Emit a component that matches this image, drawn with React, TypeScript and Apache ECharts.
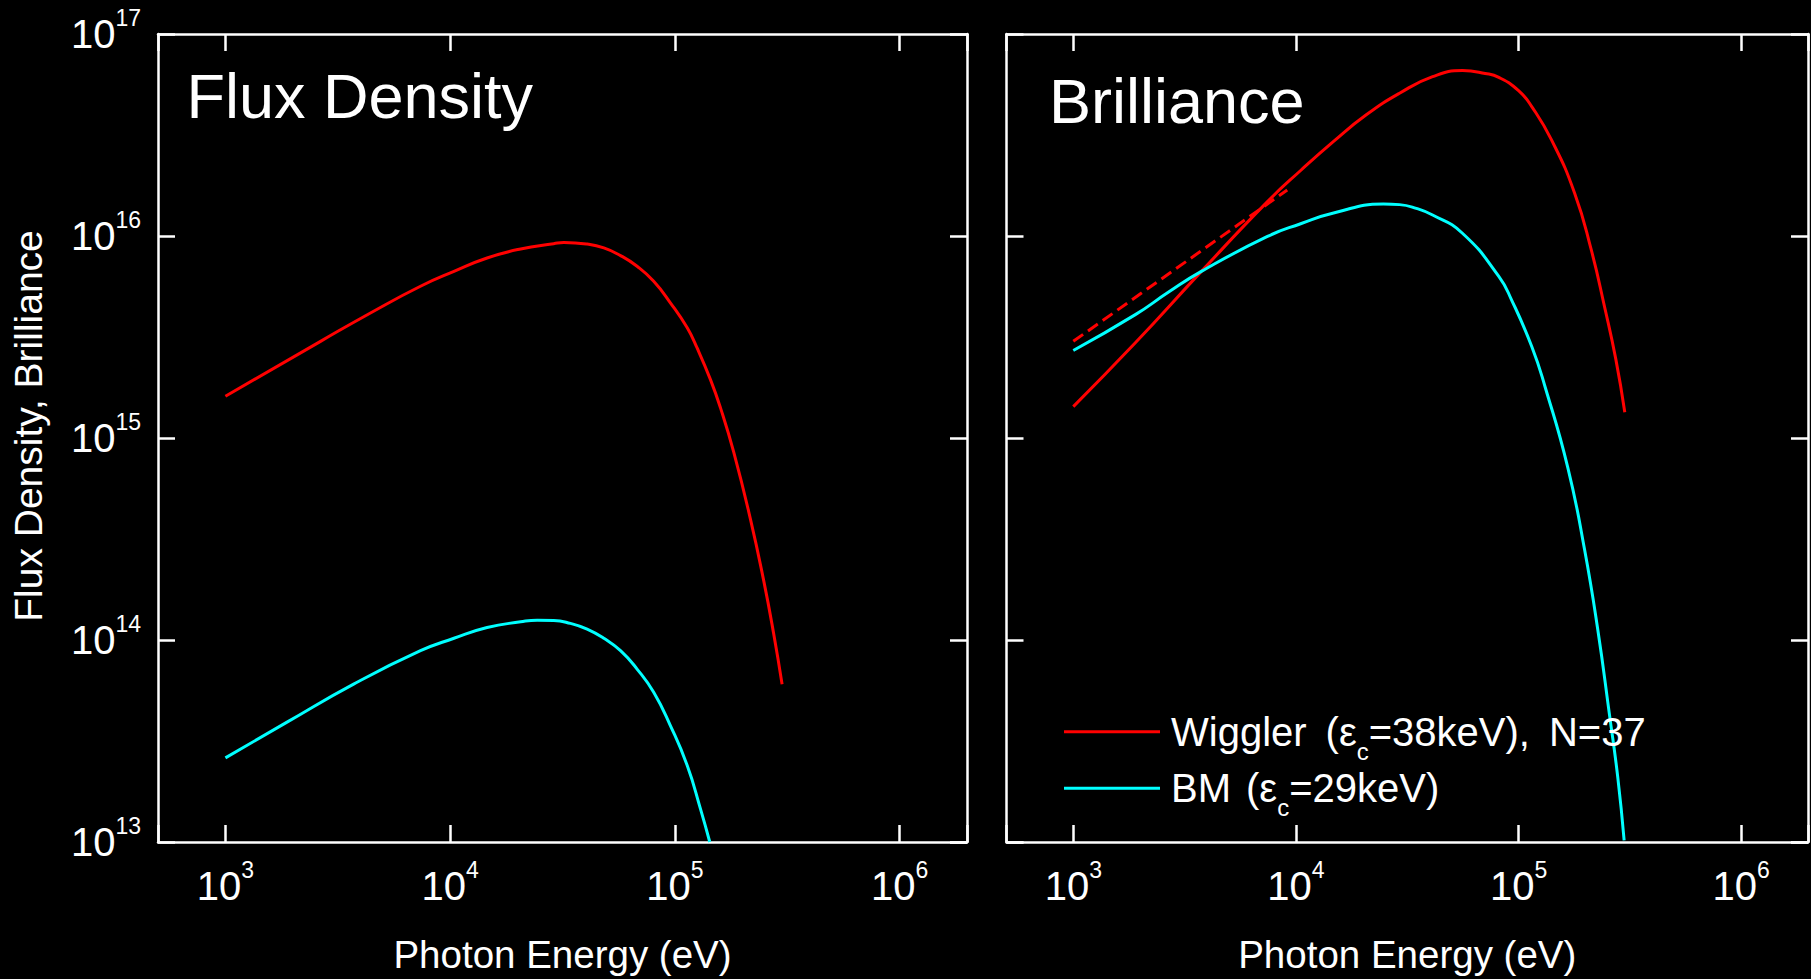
import React, { useEffect, useRef } from 'react';
import * as echarts from 'echarts';

const FONT = '"Liberation Sans", Arial, Helvetica, sans-serif';

// ---------- data (photon energy in eV) ----------
// Flux Density panel
const fluxWigglerE = [1000, 2650, 4420, 7380, 10400, 14600, 20600, 28900, 32100, 40700, 48300, 57300, 67900, 80500, 95500, 113500, 125600, 143900, 159600, 182800, 216800, 248900, 275400, 300000];
const fluxWigglerV = [1.61e15, 3.01e15, 4.16e15, 5.64e15, 6.68e15, 7.78e15, 8.63e15, 9.16e15, 9.29e15, 9.12e15, 8.73e15, 8.0e15, 7.08e15, 5.97e15, 4.67e15, 3.51e15, 2.79e15, 1.95e15, 1.41e15, 8.51e14, 3.98e14, 1.95e14, 1.07e14, 6.04e13];

const fluxBmE = [1000, 1880, 3720, 7380, 10400, 14600, 20600, 24400, 28900, 34300, 40700, 48300, 57300, 67900, 80500, 95500, 113500, 130000, 143000];
const fluxBmV = [2.61e13, 3.92e13, 6.05e13, 8.85e13, 1.02e14, 1.153e14, 1.23e14, 1.253e14, 1.25e14, 1.208e14, 1.132e14, 1.02e14, 8.85e13, 7.18e13, 5.51e13, 3.77e13, 2.39e13, 1.46e13, 1.0e13];

// Brilliance panel
const brilWigglerE = [1000, 1900, 3760, 7450, 10500, 14760, 20700, 29200, 41100, 56000, 70800, 81500, 100000, 114600, 140600, 178600, 212000, 243000, 273500, 300000];
const brilWigglerV = [1.43e15, 2.96e15, 6.68e15, 1.48e16, 2.11e16, 2.94e16, 3.98e16, 5.09e16, 6.15e16, 6.59e16, 6.38e16, 6.1e16, 5.25e16, 4.37e16, 2.99e16, 1.63e16, 8.55e15, 4.49e15, 2.45e15, 1.34e15];

const brilWigglerDashE = [1000, 9140];
const brilWigglerDashV = [3.01e15, 1.69e16];

const brilBmE = [1000, 1900, 2670, 3760, 7450, 10500, 14760, 24700, 29200, 34700, 41100, 55800, 81500, 93300, 114600, 131200, 166700, 197700, 227000, 256000, 279000, 298000];
const brilBmV = [2.71e15, 4.08e15, 5.26e15, 6.68e15, 9.95e15, 1.15e16, 1.3e16, 1.44e16, 1.43e16, 1.37e16, 1.27e16, 1.035e16, 6.31e15, 4.79e15, 2.84e15, 1.81e15, 7.08e14, 2.82e14, 1.12e14, 4.27e13, 2.09e13, 1.02e13];

// ---------- axes / labels ----------
const xTickPowers = [3, 4, 5, 6];
const yTickPowers = [13, 14, 15, 16, 17];
const X_MIN = Math.pow(10, 2.7);
const X_MAX = Math.pow(10, 6.3);
const Y_MIN = 1e13;
const Y_MAX = 1e17;

const panelTitles = ['Flux Density', 'Brilliance'];
const xAxisTitle = 'Photon Energy (eV)';
const yAxisTitle = 'Flux Density, Brilliance';
const legendNames = ['Wiggler', 'BM'];
const legendLabels: Record<string, string> = {
  Wiggler: '{t|Wiggler}{sp| }{t|(ε}{s|c}{t|=38keV),}{sp| }{t|N=37}',
  BM: '{t|BM}{sq| }{t|(ε}{s|c}{t|=29keV)}',
};

const RED = '#ff0000';
const CYAN = '#00ffff';
const WHITE = '#ffffff';

const pairs = (xs: number[], ys: number[]) => xs.map((x, i) => [x, ys[i]]);

const powLabel = (powers: number[]) => (value: number) => {
  const p = Math.log10(value);
  const r = Math.round(p);
  if (Math.abs(p - r) > 1e-3 || powers.indexOf(r) < 0) return '';
  return `{b|10}{s|${r}}`;
};

const tickRich = {
  b: { fontSize: 40, lineHeight: 56, color: WHITE, fontFamily: FONT },
  s: { fontSize: 23, lineHeight: 23, verticalAlign: 'top', color: WHITE, fontFamily: FONT },
};

const lineW = 2.5;
const axisLine = { show: true, onZero: false, lineStyle: { color: WHITE, width: lineW } };
const axisTick = { show: true, inside: true, length: 17, lineStyle: { color: WHITE, width: lineW } };

function xAxesFor(gridIndex: number) {
  return [
    {
      type: 'log', logBase: 10, gridIndex, position: 'bottom', min: X_MIN, max: X_MAX,
      axisLine, axisTick,
      axisLabel: { show: true, interval: 0, margin: 16, formatter: powLabel(xTickPowers), rich: tickRich, color: WHITE },
      splitLine: { show: false }, minorTick: { show: false }, minorSplitLine: { show: false },
      name: xAxisTitle, nameLocation: 'middle', nameGap: 93,
      nameTextStyle: { color: WHITE, fontSize: 38.5, fontFamily: FONT },
    },
    {
      type: 'log', logBase: 10, gridIndex, position: 'top', min: X_MIN, max: X_MAX,
      axisLine, axisTick, axisLabel: { show: false },
      splitLine: { show: false }, minorTick: { show: false },
    },
  ];
}

function yAxesFor(gridIndex: number, labels: boolean) {
  return [
    {
      type: 'log', logBase: 10, gridIndex, position: 'left', min: Y_MIN, max: Y_MAX,
      axisLine, axisTick,
      axisLabel: {
        show: labels, interval: 0, margin: 17, formatter: powLabel(yTickPowers), rich: tickRich, color: WHITE,
        showMinLabel: true, showMaxLabel: true,
      },
      splitLine: { show: false }, minorTick: { show: false },
    },
    {
      type: 'log', logBase: 10, gridIndex, position: 'right', min: Y_MIN, max: Y_MAX,
      axisLine, axisTick, axisLabel: { show: false },
      splitLine: { show: false }, minorTick: { show: false },
    },
  ];
}

function lineSeries(name: string, xi: number, yi: number, data: number[][], color: string, dashed = false) {
  return {
    type: 'line', name, xAxisIndex: xi, yAxisIndex: yi, data,
    showSymbol: false, symbol: 'none', smooth: dashed ? false : 0.5,
    lineStyle: { color, width: 3, type: dashed ? [12, 6] : 'solid' },
    itemStyle: { color }, clip: true, silent: true,
  };
}

const option: any = {
  animation: false,
  backgroundColor: '#000',
  textStyle: { fontFamily: FONT, color: WHITE },
  grid: [
    { left: 158, top: 34, width: 809, height: 809, containLabel: false },
    { left: 1006.5, top: 34, width: 809, height: 809, containLabel: false },
  ],
  xAxis: [...xAxesFor(0), ...xAxesFor(1)],
  yAxis: [...yAxesFor(0, true), ...yAxesFor(1, false)],
  title: [
    { text: panelTitles[0], left: 186.5, top: 64.5, padding: 0, textStyle: { color: WHITE, fontSize: 63, fontWeight: 'normal', fontFamily: FONT } },
    { text: panelTitles[1], left: 1049, top: 69.5, padding: 0, textStyle: { color: WHITE, fontSize: 63, fontWeight: 'normal', fontFamily: FONT } },
  ],
  legend: {
    data: legendNames,
    orient: 'vertical', left: 1064, top: 711.8, padding: 0, itemGap: 5,
    itemWidth: 96, itemHeight: 3, icon: 'rect', selectedMode: false,
    formatter: (name: string) => legendLabels[name] || name,
    textStyle: {
      color: WHITE, fontSize: 40, fontFamily: FONT, padding: [0, 0, 0, 6],
      rich: {
        t: { fontSize: 40, lineHeight: 63, color: WHITE, fontFamily: FONT },
        sp: { fontSize: 40, width: 19, color: WHITE, fontFamily: FONT },
        sq: { fontSize: 40, width: 15, color: WHITE, fontFamily: FONT },
        s: { fontSize: 24, verticalAlign: 'bottom', color: WHITE, fontFamily: FONT },
      },
    },
  },
  graphic: [
    {
      type: 'text', x: 28.5, y: 426, rotation: Math.PI / 2, silent: true,
      style: { text: yAxisTitle, fill: WHITE, fontSize: 39, fontFamily: FONT, align: 'center', verticalAlign: 'middle' },
    },
  ],
  series: [
    lineSeries('Wiggler flux', 0, 0, pairs(fluxWigglerE, fluxWigglerV), RED),
    lineSeries('BM flux', 0, 0, pairs(fluxBmE, fluxBmV), CYAN),
    lineSeries('Wiggler dashed', 2, 2, pairs(brilWigglerDashE, brilWigglerDashV), RED, true),
    lineSeries('Wiggler', 2, 2, pairs(brilWigglerE, brilWigglerV), RED),
    lineSeries('BM', 2, 2, pairs(brilBmE, brilBmV), CYAN),
  ],
};

export default function App() {
  const ref = useRef<HTMLDivElement>(null);
  useEffect(() => {
    document.body.style.margin = '0';
    document.body.style.background = '#000';
    const chart = echarts.init(ref.current as HTMLDivElement, null, { renderer: 'svg', width: 1811, height: 979 });
    chart.setOption(option);
    return () => chart.dispose();
  }, []);
  return (
    <div
      ref={ref}
      style={{ position: 'absolute', left: 0, top: 0, width: 1811, height: 979, background: '#000', overflow: 'hidden' }}
    />
  );
}
